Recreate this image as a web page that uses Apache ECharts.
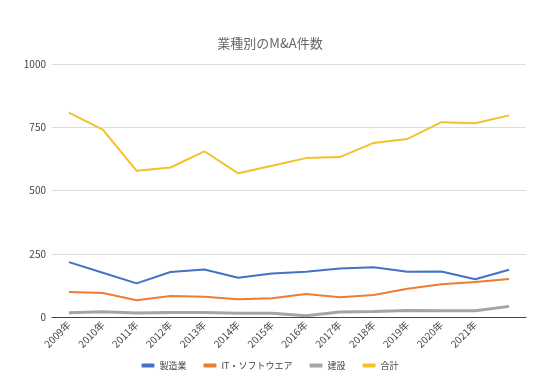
<!DOCTYPE html>
<html><head><meta charset="utf-8">
<script src="https://cdn.jsdelivr.net/npm/echarts@6/dist/echarts.min.js"></script>
<style>html,body{margin:0;padding:0;background:#fff}#c{width:540px;height:381px}</style>
</head><body><div id="c"></div>
<script>
var categories = ['2009年','2010年','2011年','2012年','2013年','2014年','2015年','2016年','2017年','2018年','2019年','2020年','2021年',''];
var seriesNames = ['製造業','IT・ソフトウエア','建設','合計'];
var manufacturing = [217,175,133,178,188,155,172,179,192,197,179,180,149,187];
var itSoftware = [99,95,66,83,80,70,74,91,78,87,112,129,138,150];
var construction = [17,21,16,18,18,15,15,5,20,22,26,25,25,42];
var total = [808,741,578,591,655,568,598,628,632,688,704,770,766,797];
var yTicks = [0,250,500,750,1000];
var colors = ['#4472C4','#ED7D31','#A5A5A5','#F2C22B'];
var font = '"Noto Sans CJK JP", "Noto Sans", sans-serif';
var chart = echarts.init(document.getElementById('c'), null, {renderer:'canvas'});
var dataSets = [manufacturing, itSoftware, construction, total];
chart.setOption({
  animation:false,
  color: colors,
  textStyle:{fontFamily:font},
  title:{text:'業種別のM&A件数', left:'center', top:32, textStyle:{fontSize:13, fontWeight:'normal', color:'#666', fontFamily:font}},
  grid:{left:52, right:14, top:64, bottom:64, containLabel:false},
  legend:{bottom:6, left:'center', itemWidth:13, itemHeight:4, itemGap:17, icon:'roundRect',
    textStyle:{fontSize:9, color:'#444', fontFamily:font}, data: seriesNames},
  xAxis:{type:'category', data:categories, boundaryGap:true,
    axisLine:{lineStyle:{color:'#444', width:1}}, axisTick:{show:false},
    axisLabel:{rotate:45, fontSize:10, color:'#444', interval:0, margin:6, fontFamily:font}},
  yAxis:{type:'value', min:yTicks[0], max:yTicks[yTicks.length-1], interval:250,
    axisLine:{show:false}, axisTick:{show:false},
    axisLabel:{fontSize:10, color:'#444', margin:6, fontFamily:font, formatter:function(v){return String(v);}},
    splitLine:{lineStyle:{color:'#dcdcdc', width:1}}},
  series: seriesNames.map(function(n,i){
    return {name:n, type:'line', data:dataSets[i], symbol:'none',
      lineStyle:{width: i===2 ? 3 : 2, color:colors[i]}, itemStyle:{color:colors[i]}};
  })
});
</script></body></html>
